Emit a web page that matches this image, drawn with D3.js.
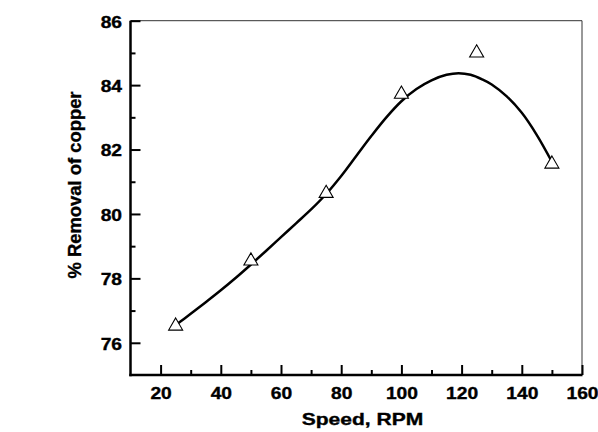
<!DOCTYPE html>
<html><head><meta charset="utf-8">
<script src="https://cdn.jsdelivr.net/npm/d3@7"></script>
<style>
html,body{margin:0;padding:0;background:#fff;}
svg text{font-family:"Liberation Sans",Arial,sans-serif;font-weight:bold;fill:#000;stroke:#000;stroke-width:0.35px;}
</style></head>
<body>
<svg id="chart" width="598" height="432"></svg>
<script>
// Measured data
const speed = [25, 50, 75, 100, 125, 150];
const removal = [76.52, 78.54, 80.64, 83.72, 85.0, 81.55];
// Fitted curve
const fitSpeed = [25, 30, 35, 40, 45, 50, 55, 60, 65, 70, 75, 80, 85, 90, 95, 100, 105, 110, 115, 119, 123, 127, 130, 135, 140, 145, 150];
const fitRemoval = [76.55, 76.9, 77.26, 77.63, 78.02, 78.43, 78.85, 79.28, 79.71, 80.14, 80.62, 81.18, 81.8, 82.42, 83.0, 83.5, 83.88, 84.15, 84.32, 84.37, 84.32, 84.17, 84.02, 83.65, 83.14, 82.45, 81.62];
const xTicks = [20, 40, 60, 80, 100, 120, 140, 160];
const xMinor = [30, 50, 70, 90, 110, 130, 150];
const yTicks = [76, 78, 80, 82, 84, 86];
const yMinor = [77, 79, 81, 83, 85];
const xTitle = "Speed, RPM";
const yTitle = "% Removal of copper";

const svg = d3.select("#chart");
const L = 130.5, R = 582, T = 20.7, B = 375;
const x = d3.scaleLinear().domain([10, 160]).range([L, R]);
const y = d3.scaleLinear().domain([75, 86]).range([B, T]);

// frame (top/right thin)
svg.append("line").attr("x1", L).attr("x2", R).attr("y1", T).attr("y2", T)
  .attr("stroke", "#333").attr("stroke-width", 1);
svg.append("line").attr("x1", R).attr("x2", R).attr("y1", T).attr("y2", B)
  .attr("stroke", "#333").attr("stroke-width", 1);

// x axis
const gx = svg.append("g").attr("transform", `translate(0,${B})`);
gx.call(d3.axisBottom(x).tickValues(xTicks).tickSizeInner(-10).tickSizeOuter(0).tickPadding(14).tickFormat(d3.format("d")));
gx.append("g").call(d3.axisBottom(x).tickValues(xMinor).tickSizeInner(-5).tickSizeOuter(0).tickFormat(""));
// y axis
const gy = svg.append("g").attr("transform", `translate(${L},0)`);
gy.call(d3.axisLeft(y).tickValues(yTicks).tickSizeInner(-10).tickSizeOuter(0).tickPadding(9).tickFormat(d3.format("d")));
gy.append("g").call(d3.axisLeft(y).tickValues(yMinor).tickSizeInner(-5).tickSizeOuter(0).tickFormat(""));

svg.selectAll(".domain").remove();
svg.selectAll(".tick line").attr("stroke", "#000").attr("stroke-width", 2);
svg.selectAll(".tick text").attr("font-size", 16).attr("font-family", "Liberation Sans, Arial, sans-serif")
  .attr("font-weight", "bold").attr("fill", "#000");
gx.selectAll(".tick text").attr("dy", null).attr("y", 24);
gy.selectAll(".tick text").attr("dy", "0.4em").attr("x", -8.5);
// stretch tick labels horizontally
svg.selectAll(".tick text").each(function(){
  const w = this.getComputedTextLength();
  if (w > 0) d3.select(this).attr("textLength", w * 1.2).attr("lengthAdjust", "spacingAndGlyphs");
});

// thick axis lines
svg.append("line").attr("x1", L).attr("x2", L).attr("y1", T).attr("y2", B + 1.2)
  .attr("stroke", "#000").attr("stroke-width", 2.5);
svg.append("line").attr("x1", L - 1.2).attr("x2", R + 0.5).attr("y1", B).attr("y2", B)
  .attr("stroke", "#000").attr("stroke-width", 2.5);

// fitted curve
const fit = fitSpeed.map((s, i) => [s, fitRemoval[i]]);
svg.append("path").datum(fit)
  .attr("d", d3.line().x(d => x(d[0])).y(d => y(d[1])).curve(d3.curveCatmullRom.alpha(0.5)))
  .attr("fill", "none").attr("stroke", "#000").attr("stroke-width", 2.5);

// markers
const tri = d3.symbol().type(d3.symbolTriangle).size(85);
svg.selectAll(".pt").data(speed.map((s, i) => [s, removal[i]])).enter().append("path")
  .attr("class", "pt").attr("d", tri)
  .attr("transform", d => `translate(${x(d[0])},${y(d[1])})`)
  .attr("fill", "#fff").attr("stroke", "#000").attr("stroke-width", 1.1);

// titles
svg.append("text").attr("x", 362.5).attr("y", 424.5).attr("text-anchor", "middle")
  .attr("font-size", 16.5).attr("textLength", 121.5).attr("lengthAdjust", "spacingAndGlyphs").text(xTitle);
svg.append("text").attr("transform", "translate(81,185) rotate(-90)").attr("text-anchor", "middle")
  .attr("font-size", 18).attr("textLength", 187).attr("lengthAdjust", "spacingAndGlyphs").text(yTitle);
</script>
</body></html>
